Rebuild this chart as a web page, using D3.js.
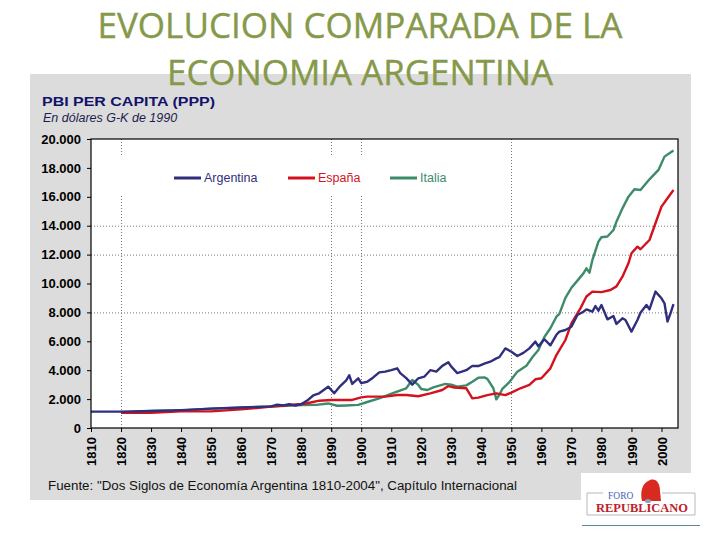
<!DOCTYPE html>
<html><head><meta charset="utf-8">
<script src="https://cdn.jsdelivr.net/npm/d3@7"></script>
<style>body{margin:0;background:#fff}svg{display:block}</style>
</head><body>
<svg id="c" width="720" height="540"></svg>
<script>
// ---- data ----
const seriesNames = ["Argentina", "España", "Italia"];
const argYears = [1810,1820,1830,1840,1850,1860,1870,1872,1874,1876,1878,1880,1882,1884,1886,1889,1891,1893,1895,1896,1897,1899,1900,1902,1904,1906,1908,1910,1912,1913,1915,1917,1919,1921,1923,1925,1927,1929,1930,1932,1935,1937,1939,1941,1943,1945,1946,1948,1950,1952,1954,1956,1958,1959,1961,1963,1965,1966,1968,1970,1972,1974,1975,1977,1978,1979,1980,1982,1984,1985,1987,1988,1990,1992,1993,1995,1996,1998,2000,2001,2002,2003,2004];
const argValues = [1130,1130,1180,1240,1340,1420,1500,1620,1560,1640,1560,1640,1900,2250,2400,2860,2400,2900,3300,3650,3050,3440,3100,3200,3500,3850,3900,4000,4130,3800,3450,3000,3440,3550,4000,3900,4300,4550,4250,3800,4000,4300,4290,4450,4590,4820,4900,5510,5280,4980,5200,5510,5980,5650,6140,5720,6450,6670,6780,7010,7820,8050,8210,8050,8440,8120,8510,7520,7750,7200,7590,7470,6670,7470,7980,8510,8210,9440,8975,8630,7360,7940,8580];

const espYears = [1820,1830,1840,1850,1860,1870,1880,1882,1886,1890,1897,1900,1902,1908,1912,1915,1919,1923,1927,1929,1931,1935,1936,1937,1939,1942,1945,1948,1950,1953,1956,1958,1960,1963,1965,1968,1970,1973,1975,1977,1980,1983,1985,1987,1989,1990,1992,1993,1996,1998,2000,2002,2004];
const espValues = [1060,1060,1150,1150,1290,1480,1660,1710,1890,1940,1940,2120,2170,2170,2280,2280,2200,2400,2630,2900,2800,2750,2400,2050,2100,2280,2400,2280,2450,2750,2980,3370,3440,4130,5050,6090,7240,8280,9100,9440,9400,9550,9800,10470,11400,12090,12550,12370,13010,14170,15320,15900,16470];

const itaYears = [1820,1830,1840,1850,1860,1870,1880,1885,1889,1892,1895,1899,1902,1906,1911,1915,1917,1919,1920,1922,1924,1928,1930,1932,1935,1937,1939,1941,1942,1944,1945,1946,1947,1949,1950,1952,1955,1957,1959,1961,1963,1965,1966,1968,1970,1972,1974,1975,1976,1977,1979,1980,1982,1984,1985,1987,1989,1991,1993,1996,1999,2001,2003,2004];
const itaValues = [1060,1180,1220,1340,1410,1480,1590,1600,1700,1540,1560,1600,1800,2050,2440,2750,3320,2980,2700,2630,2810,3050,3000,2860,2950,3200,3480,3500,3400,2750,1980,2300,2700,3100,3350,3900,4300,4900,5400,6300,6900,7700,7900,9000,9700,10200,10700,11050,10750,11630,12900,13200,13250,13700,14280,15200,16010,16520,16470,17210,17860,18780,19060,19200];

const xTicks = d3.range(1810, 2001, 10);
const yTicks = [0,2000,4000,6000,8000,10000,12000,14000,16000,18000,20000];
const xGrid = [1820, 1890, 1900, 1950];
const yGrid = [8000, 12000, 14000];

const titleLines = ["EVOLUCION COMPARADA DE LA", "ECONOMIA ARGENTINA"];
const chartTitle = "PBI PER CAPITA (PPP)";
const chartSub = "En dólares G-K de 1990";
const sourceText = "Fuente: \"Dos Siglos de Economía Argentina 1810-2004\", Capítulo Internacional";

// ---- drawing ----
const colors = {"Argentina":"#2f2f7e","España":"#d4121e","Italia":"#3d8b69"};
const svg = d3.select("#c");

// gray panel
svg.append("rect").attr("x",30).attr("y",74).attr("width",661).attr("height",426).attr("fill","#dcdcdc");
// white logo area
svg.append("rect").attr("x",581).attr("y",473).attr("width",139).attr("height",67).attr("fill","#fff");

const x = d3.scaleLinear().domain([1810, 2005.5]).range([91, 678]);
const y = d3.scaleLinear().domain([0, 20000]).range([428, 139]);

// plot background
svg.append("rect").attr("x",91).attr("y",139).attr("width",587).attr("height",289).attr("fill","#fff");

// grid
svg.append("g").selectAll("line").data(yGrid).join("line")
  .attr("x1",91).attr("x2",678).attr("y1",d=>y(d)+0.5).attr("y2",d=>y(d)+0.5)
  .attr("stroke","#777").attr("stroke-width",1).attr("stroke-dasharray","1,2");
svg.append("g").selectAll("line").data(xGrid).join("line")
  .attr("x1",d=>Math.round(x(d))+0.5).attr("x2",d=>Math.round(x(d))+0.5).attr("y1",139).attr("y2",428)
  .attr("stroke","#777").attr("stroke-width",1).attr("stroke-dasharray","1,2");

// legend box
svg.append("rect").attr("x",110).attr("y",157).attr("width",360).attr("height",39).attr("fill","#fff");
const legX = [174, 288, 390];
const lg = svg.append("g");
seriesNames.forEach((n,i)=>{
  lg.append("line").attr("x1",legX[i]).attr("x2",legX[i]+27).attr("y1",178).attr("y2",178)
    .attr("stroke",colors[n]).attr("stroke-width",3);
  lg.append("text").attr("x",legX[i]+30).attr("y",182).text(n)
    .attr("font-family","Liberation Sans, Arial, sans-serif").attr("font-size",12.5).attr("fill",colors[n]);
});

// series
const line = d3.line().x(d=>x(d[0])).y(d=>y(d[1]));
const data = [
  ["Italia", d3.zip(itaYears, itaValues)],
  ["España", d3.zip(espYears, espValues)],
  ["Argentina", d3.zip(argYears, argValues)]
];
svg.append("g").selectAll("path").data(data).join("path")
  .attr("d",d=>line(d[1])).attr("fill","none").attr("stroke",d=>colors[d[0]])
  .attr("stroke-width",2.4).attr("stroke-linejoin","round");

// frame
svg.append("rect").attr("x",91).attr("y",139).attr("width",587).attr("height",289)
  .attr("fill","none").attr("stroke","#000").attr("stroke-width",1.2);

// axes
const yAxis = d3.axisLeft(y).tickValues(yTicks).tickSize(4)
  .tickFormat(d=>d===0?"0":d3.format(",")(d).replace(/,/g,"."));
const gy = svg.append("g").attr("transform","translate(91,0)").call(yAxis);
gy.select(".domain").remove();
gy.selectAll("text").attr("font-family","Liberation Sans, Arial, sans-serif").attr("font-weight","bold")
  .attr("font-size",13).attr("fill","#000").attr("x",-10);

const xAxis = d3.axisBottom(x).tickValues(xTicks).tickSize(4).tickFormat(d3.format("d"));
const gx = svg.append("g").attr("transform","translate(0,428)").call(xAxis);
gx.select(".domain").remove();
gx.selectAll("text").attr("font-family","Liberation Sans, Arial, sans-serif").attr("font-weight","bold")
  .attr("font-size",13).attr("fill","#000")
  .attr("transform","rotate(-90)").attr("text-anchor","end").attr("x",-9).attr("y",0).attr("dy","0.35em");

// chart titles
svg.append("text").attr("x",42).attr("y",106).text(chartTitle)
  .attr("font-family","Liberation Sans, Arial, sans-serif").attr("font-weight","bold").attr("font-size",13.5)
  .attr("fill","#12126a").attr("textLength",173).attr("lengthAdjust","spacingAndGlyphs");
svg.append("text").attr("x",43).attr("y",122).text(chartSub)
  .attr("font-family","Liberation Sans, Arial, sans-serif").attr("font-style","italic").attr("font-size",12.5)
  .attr("fill","#1c1c50");

// source
svg.append("text").attr("x",48).attr("y",490).text(sourceText)
  .attr("font-family","Liberation Sans, Arial, sans-serif").attr("font-size",12.5).attr("fill","#111")
  .attr("textLength",469).attr("lengthAdjust","spacingAndGlyphs");

// slide title
const tl = [[38,525],[85,386]];
titleLines.forEach((t,i)=>{
  svg.append("text").attr("x",360).attr("y",tl[i][0]).attr("text-anchor","middle").text(t)
    .attr("font-family","Open Sans, sans-serif").attr("font-size",35).attr("fill","#86994a")
    .attr("stroke","#86994a").attr("stroke-width",0.4)
    .attr("textLength",tl[i][1]).attr("lengthAdjust","spacingAndGlyphs");
});

// logo
const lgG = svg.append("g");
lgG.append("path").attr("d","M603 493 H587 V515 H695 V493 H662")
  .attr("fill","none").attr("stroke","#b8b8b8").attr("stroke-width",1);
lgG.append("text").attr("x",608).attr("y",499).text("FORO")
  .attr("font-family","Liberation Serif, serif").attr("font-size",9.5).attr("fill","#4a63b0");
lgG.append("path").attr("d","M642 501 C640 492 642 483 650 480 C656 478 660 483 660 491 L661 501 Z")
  .attr("fill","#d82a1e");
lgG.append("ellipse").attr("cx",648).attr("cy",501).attr("rx",3).attr("ry",2).attr("fill","#8aa0c0");
lgG.append("text").attr("x",596).attr("y",512).text("REPUBLICANO")
  .attr("font-family","Liberation Serif, serif").attr("font-weight","bold").attr("font-size",13)
  .attr("fill","#c0202a").attr("textLength",92).attr("lengthAdjust","spacingAndGlyphs");
lgG.append("line").attr("x1",582).attr("x2",700).attr("y1",525.5).attr("y2",525.5)
  .attr("stroke","#5b86a0").attr("stroke-width",1);
</script>
</body></html>
